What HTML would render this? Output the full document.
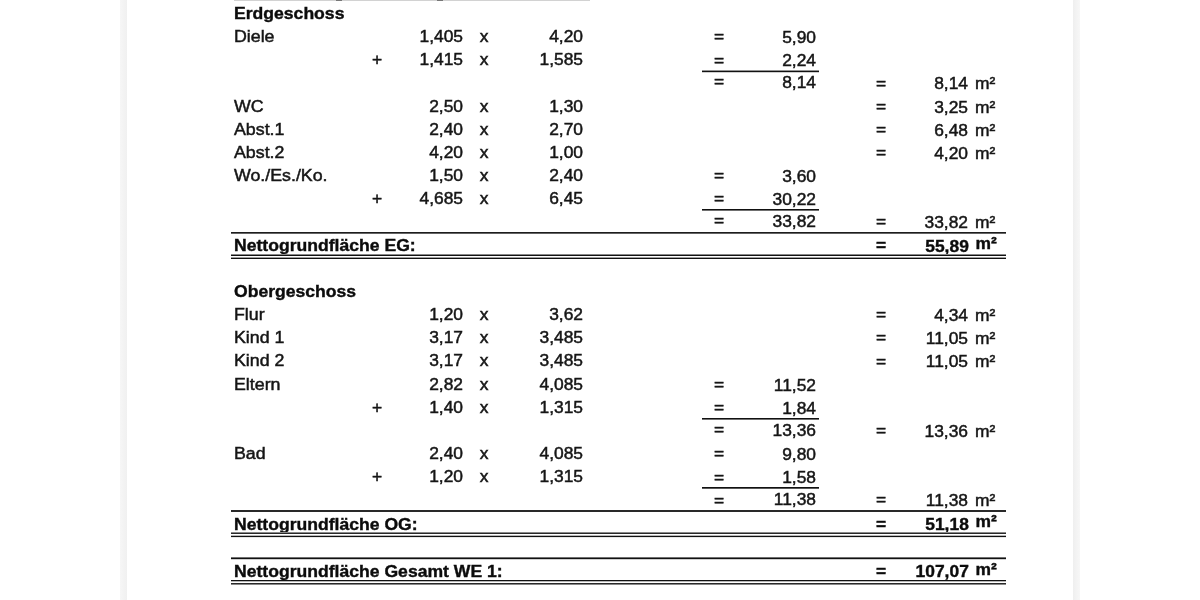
<!DOCTYPE html>
<html lang="de">
<head>
<meta charset="utf-8">
<title>Nettogrundfläche</title>
<style>
html,body{margin:0;padding:0;background:#fff;}
body{width:1200px;height:600px;position:relative;overflow:hidden;font-family:"Liberation Sans",sans-serif;font-size:17.4px;color:#161616;-webkit-text-stroke:0.5px #161616;}
.sl{position:absolute;top:0;height:600px;background:#f1f1f1;}
.r{position:absolute;left:0;width:1200px;height:23px;line-height:23px;white-space:nowrap;}
.r span{position:absolute;top:0;}
.r .a{transform:scaleX(1.022);}
.b{font-weight:bold;color:#0c0c0c;-webkit-text-stroke:0.4px #0c0c0c;}
.b .a{transform:scaleX(1.011);}
.b .n4{right:231.2px;}
.b .m{left:975.6px;}
.a{left:234px;transform-origin:left top;}
.p{left:357px;width:40px;text-align:center;}
.n1{right:737px;transform-origin:right top;}
.x{left:464px;width:40px;text-align:center;}
.n2{right:617px;transform-origin:right top;}
.e1{left:699px;width:40px;text-align:center;}
.n3{right:384px;transform-origin:right top;}
.e2{left:861px;width:40px;text-align:center;}
.n4{right:232px;transform-origin:right top;}
.m{left:975px;transform-origin:left top;}
.ln{position:absolute;background:#111;}
</style>
</head>
<body>
<div class="sl" style="left:120px;width:7px;background:linear-gradient(to right,#f6f6f6,#f0f0f0)"></div>
<div class="sl" style="left:1073px;width:7px;background:linear-gradient(to right,#efefef,#f7f7f7)"></div>
<div class="ln" style="left:234px;width:356px;top:0;height:1px;background:#d2d2d2"></div>
<div class="ln" style="left:336px;width:6px;top:0;height:1px;background:#777"></div>
<div class="ln" style="left:437px;width:6px;top:0;height:1px;background:#777"></div>

<div class="r b" style="top:2px"><span class="a">Erdgeschoss</span></div>
<div class="r" style="top:25px"><span class="a">Diele</span><span class="n1">1,405</span><span class="x">x</span><span class="n2">4,20</span><span class="e1">=</span><span class="n3" style="top:1px">5,90</span></div>
<div class="r" style="top:48px"><span class="p">+</span><span class="n1">1,415</span><span class="x">x</span><span class="n2">1,585</span><span class="e1" style="top:1px">=</span><span class="n3" style="top:1px">2,24</span></div>
<div class="r" style="top:71px"><span class="e1" style="top:-1px">=</span><span class="n3">8,14</span><span class="e2" style="top:1px">=</span><span class="n4" style="top:1px">8,14</span><span class="m" style="top:1px">m²</span></div>
<div class="r" style="top:95px"><span class="a">WC</span><span class="n1">2,50</span><span class="x">x</span><span class="n2">1,30</span><span class="e2">=</span><span class="n4" style="top:1px">3,25</span><span class="m" style="top:1px">m²</span></div>
<div class="r" style="top:118px"><span class="a">Abst.1</span><span class="n1">2,40</span><span class="x">x</span><span class="n2">2,70</span><span class="e2">=</span><span class="n4" style="top:1px">6,48</span><span class="m" style="top:1px">m²</span></div>
<div class="r" style="top:141px"><span class="a">Abst.2</span><span class="n1">4,20</span><span class="x">x</span><span class="n2">1,00</span><span class="e2">=</span><span class="n4" style="top:1px">4,20</span><span class="m" style="top:1px">m²</span></div>
<div class="r" style="top:164px"><span class="a">Wo./Es./Ko.</span><span class="n1">1,50</span><span class="x">x</span><span class="n2">2,40</span><span class="e1">=</span><span class="n3" style="top:1px">3,60</span></div>
<div class="r" style="top:187px"><span class="p">+</span><span class="n1">4,685</span><span class="x">x</span><span class="n2">6,45</span><span class="e1">=</span><span class="n3" style="top:1px">30,22</span></div>
<div class="r" style="top:210px"><span class="e1" style="top:-1px">=</span><span class="n3">33,82</span><span class="e2">=</span><span class="n4" style="top:1px">33,82</span><span class="m" style="top:1px">m²</span></div>
<div class="r b" style="top:234px"><span class="a">Nettogrundfläche EG:</span><span class="e2">=</span><span class="n4" style="top:1px">55,89</span><span class="m" style="top:-2px">m²</span></div>
<div class="r b" style="top:280px"><span class="a">Obergeschoss</span></div>
<div class="r" style="top:303px"><span class="a">Flur</span><span class="n1">1,20</span><span class="x">x</span><span class="n2">3,62</span><span class="e2">=</span><span class="n4" style="top:1px">4,34</span><span class="m" style="top:1px">m²</span></div>
<div class="r" style="top:326px"><span class="a">Kind 1</span><span class="n1">3,17</span><span class="x">x</span><span class="n2">3,485</span><span class="e2">=</span><span class="n4" style="top:1px">11,05</span><span class="m" style="top:1px">m²</span></div>
<div class="r" style="top:349px"><span class="a">Kind 2</span><span class="n1">3,17</span><span class="x">x</span><span class="n2">3,485</span><span class="e2" style="top:1px">=</span><span class="n4" style="top:1px">11,05</span><span class="m" style="top:1px">m²</span></div>
<div class="r" style="top:373px"><span class="a">Eltern</span><span class="n1">2,82</span><span class="x">x</span><span class="n2">4,085</span><span class="e1">=</span><span class="n3" style="top:1px">11,52</span></div>
<div class="r" style="top:396px"><span class="p">+</span><span class="n1">1,40</span><span class="x">x</span><span class="n2">1,315</span><span class="e1">=</span><span class="n3" style="top:1px">1,84</span></div>
<div class="r" style="top:419px"><span class="e1" style="top:-1px">=</span><span class="n3">13,36</span><span class="e2">=</span><span class="n4" style="top:1px">13,36</span><span class="m" style="top:1px">m²</span></div>
<div class="r" style="top:442px"><span class="a">Bad</span><span class="n1">2,40</span><span class="x">x</span><span class="n2">4,085</span><span class="e1">=</span><span class="n3" style="top:1px">9,80</span></div>
<div class="r" style="top:465px"><span class="p">+</span><span class="n1">1,20</span><span class="x">x</span><span class="n2">1,315</span><span class="e1" style="top:1px">=</span><span class="n3" style="top:1px">1,58</span></div>
<div class="r" style="top:488px"><span class="e1" style="top:1px">=</span><span class="n3">11,38</span><span class="e2">=</span><span class="n4" style="top:1px">11,38</span><span class="m" style="top:1px">m²</span></div>
<div class="r b" style="top:513px"><span class="a">Nettogrundfläche OG:</span><span class="e2">=</span><span class="n4">51,18</span><span class="m" style="top:-3px">m²</span></div>
<div class="r b" style="top:560px"><span class="a">Nettogrundfläche Gesamt WE 1:</span><span class="e2">=</span><span class="n4">107,07</span><span class="m" style="top:-2px">m²</span></div>
<div class="ln" style="left:702px;width:117px;top:70px;height:1px;background:#949494"></div>
<div class="ln" style="left:702px;width:117px;top:71px;height:1px;background:#111111"></div>
<div class="ln" style="left:702px;width:117px;top:72px;height:1px;background:#cfcfcf"></div>
<div class="ln" style="left:702px;width:117px;top:209px;height:1px;background:#111111"></div>
<div class="ln" style="left:702px;width:117px;top:210px;height:1px;background:#707070"></div>
<div class="ln" style="left:702px;width:117px;top:418px;height:1px;background:#111111"></div>
<div class="ln" style="left:702px;width:117px;top:419px;height:1px;background:#707070"></div>
<div class="ln" style="left:702px;width:117px;top:487px;height:1px;background:#111111"></div>
<div class="ln" style="left:702px;width:117px;top:488px;height:1px;background:#585858"></div>
<div class="ln" style="left:231px;width:775px;top:232px;height:1px;background:#1d1d1d"></div>
<div class="ln" style="left:231px;width:775px;top:233px;height:1px;background:#646464"></div>
<div class="ln" style="left:231px;width:775px;top:254px;height:1px;background:#888888"></div>
<div class="ln" style="left:231px;width:775px;top:255px;height:1px;background:#111111"></div>
<div class="ln" style="left:231px;width:775px;top:257px;height:1px;background:#a0a0a0"></div>
<div class="ln" style="left:231px;width:775px;top:258px;height:1px;background:#111111"></div>
<div class="ln" style="left:231px;width:775px;top:510px;height:1px;background:#292929"></div>
<div class="ln" style="left:231px;width:775px;top:511px;height:1px;background:#292929"></div>
<div class="ln" style="left:231px;width:775px;top:532px;height:1px;background:#888888"></div>
<div class="ln" style="left:231px;width:775px;top:533px;height:1px;background:#292929"></div>
<div class="ln" style="left:231px;width:775px;top:535px;height:1px;background:#b8b8b8"></div>
<div class="ln" style="left:231px;width:775px;top:536px;height:1px;background:#111111"></div>
<div class="ln" style="left:231px;width:775px;top:537px;height:1px;background:#e7e7e7"></div>
<div class="ln" style="left:231px;width:775px;top:557px;height:1px;background:#707070"></div>
<div class="ln" style="left:231px;width:775px;top:558px;height:1px;background:#111111"></div>
<div class="ln" style="left:231px;width:775px;top:559px;height:1px;background:#cfcfcf"></div>
<div class="ln" style="left:231px;width:775px;top:580px;height:1px;background:#111111"></div>
<div class="ln" style="left:231px;width:775px;top:581px;height:1px;background:#b8b8b8"></div>
<div class="ln" style="left:231px;width:775px;top:583px;height:1px;background:#292929"></div>
<div class="ln" style="left:231px;width:775px;top:584px;height:1px;background:#888888"></div>
</body>
</html>
